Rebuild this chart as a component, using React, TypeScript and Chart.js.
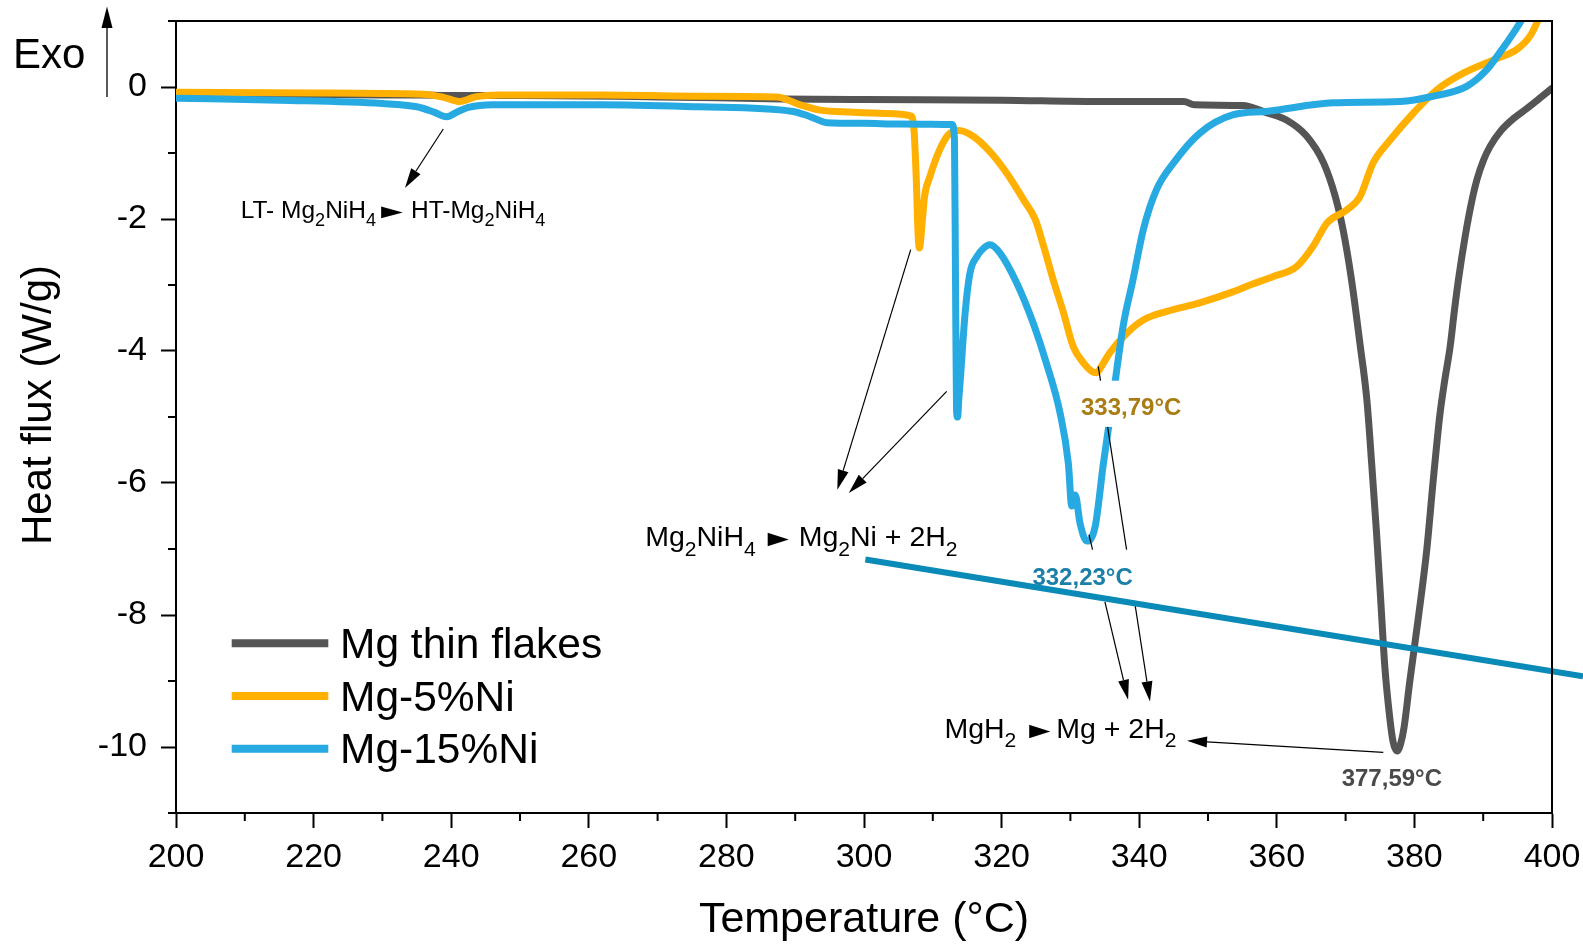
import React, { useEffect, useRef } from 'react';
import { Chart, registerables } from 'chart.js';

Chart.register(...registerables);

const FONT = '"Liberation Sans", Arial, Helvetica, sans-serif';

// ---- Data (temperature °C / heat flux W/g) ----
const grayT = [200, 215, 230, 236, 239, 241, 244, 250, 270, 288, 300, 320, 334, 346.5, 348, 355, 358.5, 361.4, 364.3, 366.8, 368.5, 369.7, 370.9, 372.1, 373.1, 373.8, 374.5, 375.1, 375.7, 376.4, 376.9, 377.5, 378.0, 378.5, 379.3, 380.6, 381.8, 382.7, 383.7, 384.4, 385.2, 385.8, 386.4, 387.4, 388.3, 389.1, 390.0, 391.0, 392.6, 394.5, 396.3, 398.0, 400];
const grayQ = [-0.10, -0.11, -0.12, -0.12, -0.13, -0.13, -0.13, -0.13, -0.15, -0.18, -0.19, -0.20, -0.22, -0.22, -0.27, -0.28, -0.39, -0.50, -0.74, -1.15, -1.66, -2.2, -2.95, -3.9, -4.75, -5.72, -6.76, -7.77, -8.78, -9.54, -9.92, -10.06, -9.95, -9.7, -9.03, -8.02, -7.01, -6.0, -4.97, -4.45, -3.93, -3.4, -2.92, -2.25, -1.75, -1.40, -1.12, -0.90, -0.66, -0.47, -0.33, -0.19, -0.02];

const orangeT = [200, 220, 236, 239, 241.3, 243.5, 247, 262, 276, 287.3, 290.7, 293.6, 298, 303, 306.9, 307.3, 307.6, 307.85, 308.05, 308.5, 308.8, 309.6, 311.0, 312.3, 313.8, 315.9, 318.3, 320.7, 323.2, 324.9, 326.1, 327.5, 329.0, 330.4, 331.9, 333.0, 333.8, 334.7, 335.7, 338.2, 340.6, 344.0, 348.8, 353.7, 356.1, 359.5, 362.9, 365.3, 367.3, 370.2, 372.1, 374.0, 376.5, 379.9, 383.3, 387.1, 391.5, 394.9, 396.8, 398.0, 399.0];
const orangeQ = [-0.08, -0.09, -0.11, -0.16, -0.22, -0.15, -0.12, -0.12, -0.14, -0.15, -0.27, -0.35, -0.38, -0.40, -0.44, -0.7, -1.4, -2.2, -2.44, -2.0, -1.66, -1.35, -0.95, -0.72, -0.66, -0.75, -0.98, -1.30, -1.71, -2.01, -2.41, -2.92, -3.42, -3.93, -4.18, -4.3, -4.33, -4.2, -4.03, -3.73, -3.53, -3.40, -3.27, -3.10, -3.0, -2.87, -2.72, -2.41, -2.06, -1.86, -1.66, -1.15, -0.80, -0.39, -0.04, 0.21, 0.41, 0.57, 0.77, 1.02, 1.3];

const blueT = [200, 215, 230, 235, 237.5, 239.3, 241, 242.5, 246, 262, 276, 289.7, 292.2, 294.6, 300, 305.2, 312.8, 313.15, 313.3, 313.45, 313.6, 313.8, 314.0, 314.7, 315.4, 316.4, 317.3, 318.3, 319.8, 322.2, 324.6, 326.5, 328.5, 329.7, 330.2, 330.7, 331.4, 332.4, 333.6, 334.8, 336.2, 337.7, 339.1, 340.6, 342.5, 345.0, 348.8, 353.7, 358.5, 368.2, 377.9, 382.7, 387.6, 390.5, 392.4, 394.4, 395.6, 396.5];
const blueQ = [-0.17, -0.2, -0.25, -0.3, -0.38, -0.45, -0.37, -0.31, -0.27, -0.27, -0.30, -0.37, -0.45, -0.54, -0.55, -0.56, -0.57, -0.8, -2.9, -4.9, -5.0, -4.7, -4.43, -3.42, -2.82, -2.57, -2.45, -2.39, -2.52, -2.97, -3.58, -4.18, -4.94, -5.70, -6.35, -6.18, -6.61, -6.88, -6.66, -5.70, -4.69, -3.6, -2.92, -2.16, -1.56, -1.15, -0.70, -0.42, -0.37, -0.24, -0.22, -0.14, 0.01, 0.26, 0.52, 0.82, 1.02, 1.2];

// stray straight guide line
const guideT = [300.2, 404.5];
const guideQ = [-7.16, -8.93];

const seriesNames = ['Mg thin flakes', 'Mg-5%Ni', 'Mg-15%Ni'];
const seriesColors = ['#555555', '#FFB000', '#27AAE1'];
const guideColor = '#0A8AB6';

const xMajor = [200, 220, 240, 260, 280, 300, 320, 340, 360, 380, 400];
const xMinor = [210, 230, 250, 270, 290, 310, 330, 350, 370, 390];
const yMajor = [-10, -8, -6, -4, -2, 0];
const yMinor = [-11, -9, -7, -5, -3, -1, 1];

const xTitle = 'Temperature (°C)';
const yTitle = 'Heat flux (W/g)';
const exoLabel = 'Exo';

// Annotations (data coordinates). kinds: n normal, s subscript, p pointer glyph, g gap (px)
type Seg = [string, 'n' | 's' | 'p' | 'g'];
const formulas: { x: number; y: number; size: number; stretch: number; segs: Seg[] }[] = [
  { x: 209.4, y: -1.985, size: 24.5, stretch: 1.85, segs: [['LT- Mg', 'n'], ['2', 's'], ['NiH', 'n'], ['4', 's'], ['-2', 'g'], ['►', 'p'], ['1', 'g'], ['HT-Mg', 'n'], ['2', 's'], ['NiH', 'n'], ['4', 's']] },
  { x: 268.2, y: -6.961, size: 28.5, stretch: 1.55, segs: [['Mg', 'n'], ['2', 's'], ['NiH', 'n'], ['4', 's'], ['5', 'g'], ['►', 'p'], ['3', 'g'], ['Mg', 'n'], ['2', 's'], ['Ni + 2H', 'n'], ['2', 's']] },
  { x: 311.69, y: -9.864, size: 28.5, stretch: 1.55, segs: [['MgH', 'n'], ['2', 's'], ['6', 'g'], ['►', 'p'], ['-1', 'g'], ['Mg + 2H', 'n'], ['2', 's']] },
];
const arrows = [
  [238.85, -0.636, 233.28, -1.53],
  [306.79, -2.465, 296.12, -6.102],
  [312.02, -4.612, 297.79, -6.152],
  [332.7, -6.783, 338.39, -9.283],
  [334.05, -4.233, 341.57, -9.309],
  [375.48, -10.082, 346.95, -9.905],
];
const peakLabels = [
  { text: '333,79°C', x: 331.54, y: -4.965, color: '#A97C14', box: [330.8, 346.8, -4.45, -5.15] },
  { text: '332,23°C', x: 324.48, y: -7.541, color: '#1B7FA8', box: [323.7, 339.7, -7.01, -7.8] },
  { text: '377,59°C', x: 369.43, y: -10.597, color: '#4A4A4A', box: null as null | number[] },
];

function drawArrow(ctx: CanvasRenderingContext2D, x1: number, y1: number, x2: number, y2: number) {
  const headLen = 20, half = 5.5;
  const a = Math.atan2(y2 - y1, x2 - x1);
  const bx = x2 - headLen * Math.cos(a), by = y2 - headLen * Math.sin(a);
  ctx.save();
  ctx.strokeStyle = '#000';
  ctx.fillStyle = '#000';
  ctx.lineWidth = 1.2;
  ctx.beginPath();
  ctx.moveTo(x1, y1);
  ctx.lineTo(bx, by);
  ctx.stroke();
  ctx.beginPath();
  ctx.moveTo(x2, y2);
  ctx.lineTo(bx + half * Math.sin(a), by - half * Math.cos(a));
  ctx.lineTo(bx - half * Math.sin(a), by + half * Math.cos(a));
  ctx.closePath();
  ctx.fill();
  ctx.restore();
}

function drawRich(ctx: CanvasRenderingContext2D, x: number, y: number, size: number, stretch: number, segs: Seg[]) {
  let cx = x;
  ctx.save();
  ctx.textAlign = 'left';
  ctx.textBaseline = 'alphabetic';
  ctx.fillStyle = '#000';
  for (const [t, k] of segs) {
    if (k === 'g') { cx += Number(t); continue; }
    if (k === 'p') {
      const s = size * 0.8;
      ctx.font = `${s}px ${FONT}`;
      const w = ctx.measureText(t).width;
      ctx.save();
      ctx.translate(cx, y);
      ctx.scale(stretch, 1);
      ctx.fillText(t, 0, 0);
      ctx.restore();
      cx += w * stretch;
      continue;
    }
    let s = size, dy = 0;
    if (k === 's') { s = size * 0.74; dy = size * 0.33; }
    ctx.font = `${s}px ${FONT}`;
    ctx.fillText(t, cx, y + dy);
    cx += ctx.measureText(t).width;
  }
  ctx.restore();
}

const overlayPlugin = {
  id: 'overlay',
  afterDatasetDraw(chart: any, args: any) {
    const ds = chart.data.datasets[args.index];
    if (ds.label !== seriesNames[2]) return;
    const ctx: CanvasRenderingContext2D = chart.ctx;
    const sx = chart.scales.x, sy = chart.scales.y;
    for (const [a, b, c, d] of arrows) {
      drawArrow(ctx, sx.getPixelForValue(a), sy.getPixelForValue(b), sx.getPixelForValue(c), sy.getPixelForValue(d));
    }
    ctx.save();
    ctx.fillStyle = '#fff';
    for (const p of peakLabels) {
      if (!p.box) continue;
      const x1 = sx.getPixelForValue(p.box[0]), x2 = sx.getPixelForValue(p.box[1]);
      const y1 = sy.getPixelForValue(p.box[2]), y2 = sy.getPixelForValue(p.box[3]);
      ctx.fillRect(x1, y1, x2 - x1, y2 - y1);
    }
    ctx.restore();
  },
  afterDraw(chart: any) {
    const ctx: CanvasRenderingContext2D = chart.ctx;
    const { left, right, top, bottom } = chart.chartArea;
    const sx = chart.scales.x, sy = chart.scales.y;
    ctx.save();
    // frame top/right
    ctx.strokeStyle = '#000';
    ctx.lineWidth = 2;
    ctx.beginPath();
    ctx.moveTo(left - 1, top);
    ctx.lineTo(right, top);
    ctx.lineTo(right, bottom + 1);
    ctx.stroke();
    // minor ticks
    ctx.beginPath();
    for (const v of yMinor) {
      const y = sy.getPixelForValue(v);
      ctx.moveTo(left - 8, y);
      ctx.lineTo(left, y);
    }
    for (const v of xMinor) {
      const x = sx.getPixelForValue(v);
      ctx.moveTo(x, bottom);
      ctx.lineTo(x, bottom + 8);
    }
    ctx.stroke();

    // formulas
    for (const f of formulas) {
      drawRich(ctx, sx.getPixelForValue(f.x), sy.getPixelForValue(f.y), f.size, f.stretch, f.segs);
    }
    // peak labels
    ctx.font = `bold 24px ${FONT}`;
    ctx.textAlign = 'left';
    ctx.textBaseline = 'alphabetic';
    for (const p of peakLabels) {
      ctx.fillStyle = p.color;
      ctx.fillText(p.text, sx.getPixelForValue(p.x), sy.getPixelForValue(p.y));
    }

    // legend
    const rows = [643.3, 696, 748.7];
    seriesNames.forEach((name, i) => {
      ctx.strokeStyle = seriesColors[i];
      ctx.lineWidth = 8;
      ctx.lineCap = 'butt';
      ctx.beginPath();
      ctx.moveTo(231.7, rows[i]);
      ctx.lineTo(328.3, rows[i]);
      ctx.stroke();
      ctx.fillStyle = '#000';
      ctx.font = `42.5px ${FONT}`;
      ctx.fillText(name, 340, rows[i] + 14.5);
    });

    // Exo
    ctx.fillStyle = '#000';
    ctx.font = `42px ${FONT}`;
    ctx.fillText(exoLabel, 13, 68);
    ctx.strokeStyle = '#000';
    ctx.lineWidth = 1.3;
    ctx.beginPath();
    ctx.moveTo(107, 97);
    ctx.lineTo(107, 26);
    ctx.stroke();
    ctx.beginPath();
    ctx.moveTo(107, 6.5);
    ctx.lineTo(101.5, 28);
    ctx.lineTo(112.5, 28);
    ctx.closePath();
    ctx.fill();

    // y title
    ctx.save();
    ctx.translate(51, 405);
    ctx.rotate(-Math.PI / 2);
    ctx.textAlign = 'center';
    ctx.textBaseline = 'alphabetic';
    ctx.font = `42px ${FONT}`;
    ctx.fillStyle = '#000';
    ctx.fillText(yTitle, 0, 0);
    ctx.restore();

    ctx.restore();
  },
};

const mk = (T: number[], Q: number[]) => T.map((t, i) => ({ x: t, y: Q[i] }));

export default function App() {
  const ref = useRef<HTMLCanvasElement | null>(null);
  useEffect(() => {
    if (!ref.current) return;
    const common = { pointRadius: 0, fill: false, cubicInterpolationMode: 'monotone' as const, borderJoinStyle: 'round' as const, borderCapStyle: 'round' as const };
    const chart = new Chart(ref.current, {
      type: 'line',
      data: {
        datasets: [
          { label: seriesNames[0], data: mk(grayT, grayQ), borderColor: seriesColors[0], borderWidth: 7, clip: 0, order: 4, ...common },
          { label: seriesNames[1], data: mk(orangeT, orangeQ), borderColor: seriesColors[1], borderWidth: 7, clip: 0, order: 3, ...common },
          { label: seriesNames[2], data: mk(blueT, blueQ), borderColor: seriesColors[2], borderWidth: 7, clip: 0, order: 2, ...common },
          { label: 'guide', data: mk(guideT, guideQ), borderColor: guideColor, borderWidth: 6, clip: false, order: 1, pointRadius: 0, fill: false, borderCapStyle: 'butt' },
        ] as any,
      },
      options: {
        animation: false,
        responsive: true,
        maintainAspectRatio: false,
        events: [],
        layout: { padding: { top: 21, right: 31, left: 0, bottom: 0 } },
        plugins: { legend: { display: false }, tooltip: { enabled: false }, title: { display: false } },
        scales: {
          x: {
            type: 'linear',
            min: 200,
            max: 400,
            position: 'bottom',
            afterBuildTicks: (s: any) => { s.ticks = xMajor.map((v) => ({ value: v })); },
            afterFit: (s: any) => { s.height = 132; s.paddingLeft = 0; s.paddingRight = 0; },
            grid: { display: true, drawOnChartArea: false, drawTicks: true, tickLength: 15, tickWidth: 2, tickColor: '#000', color: '#000' },
            border: { display: true, color: '#000', width: 2 },
            ticks: { color: '#000', font: { family: FONT, size: 34 }, padding: 9, maxRotation: 0, autoSkip: false, callback: (v: any) => String(v) },
            title: { display: true, text: xTitle, color: '#000', font: { family: FONT, size: 43 }, padding: { top: 0, bottom: -1 } },
          },
          y: {
            type: 'linear',
            min: -11,
            max: 1,
            afterBuildTicks: (s: any) => { s.ticks = yMajor.map((v) => ({ value: v })); },
            afterFit: (s: any) => { s.width = 176; s.paddingTop = 0; s.paddingBottom = 0; },
            grid: { display: true, drawOnChartArea: false, drawTicks: true, tickLength: 15, tickWidth: 2, tickColor: '#000', color: '#000' },
            border: { display: true, color: '#000', width: 2 },
            ticks: { color: '#000', font: { family: FONT, size: 34 }, padding: 14, autoSkip: false, callback: (v: any) => String(v) },
          },
        },
      } as any,
      plugins: [overlayPlugin],
    });
    return () => chart.destroy();
  }, []);
  return (
    <div style={{ position: 'absolute', left: 0, top: 0, width: 1583, height: 945, background: '#fff' }}>
      <canvas ref={ref} />
    </div>
  );
}
